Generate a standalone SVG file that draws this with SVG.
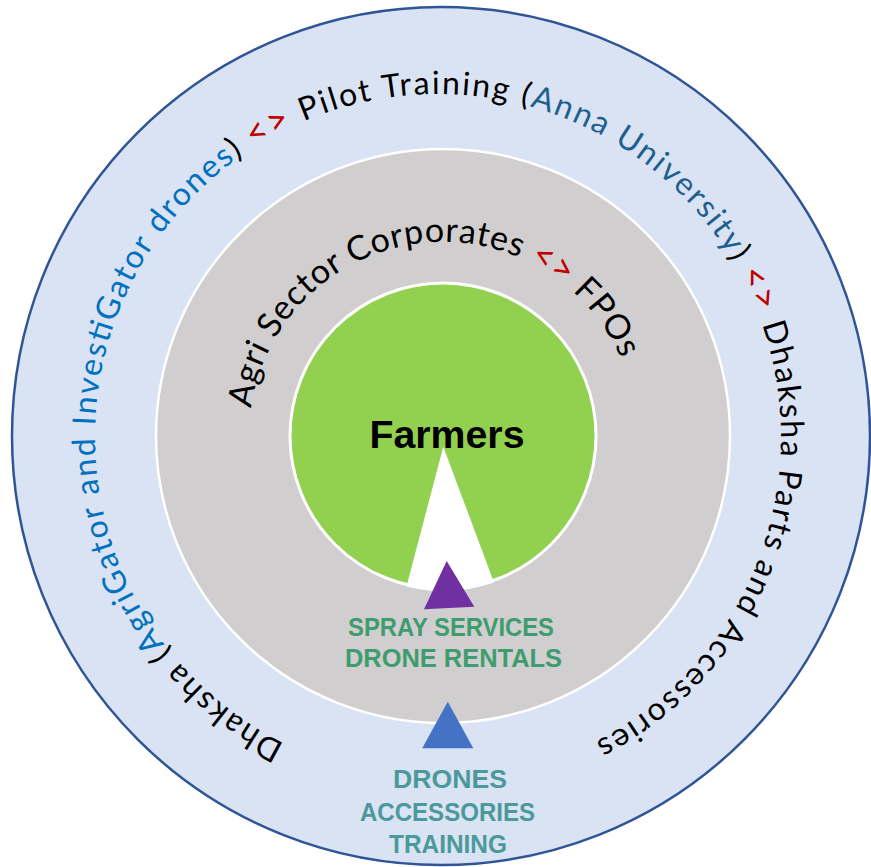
<svg xmlns="http://www.w3.org/2000/svg" width="871" height="867" viewBox="0 0 871 867">
<style>
.ring-text{font-family:Lato,"Open Sans",sans-serif;fill:#000}
.outer-t{font-size:32px}
.inner-t{font-size:34px}
.blue{fill:#0070c0}
.navy{fill:#1f5f8f}
.red{fill:#c00000;font-size:36px}
.cap{font-family:"Liberation Sans",Arial,sans-serif;font-weight:bold;font-size:25px;text-anchor:middle}
.green-t{fill:#3f9c6e}
.teal-t{fill:#4b999b}
</style>
<defs>
<path id="outerPath" d="M284.4,743.7 A343,343 0 0 1 591.6,130.3 A343,343 0 0 1 284.4,743.7"/>
<path id="innerPath" d="M251.0,408.3 A194,194 0 0 1 634.1,402.3"/>
</defs>
<rect width="871" height="867" fill="#fff"/>
<g id="outer-ring">
<circle cx="441" cy="436" r="429" fill="#dae3f3" stroke="#2f5597" stroke-width="2.5"/>
<text class="ring-text outer-t"><textPath href="#outerPath" textLength="1832" lengthAdjust="spacing">Dhaksha (<tspan class="blue">AgriGator and InvestiGator drones</tspan>) <tspan class="red">&lt;&gt;</tspan> Pilot Training (<tspan class="navy">Anna University</tspan>) <tspan class="red">&lt;&gt;</tspan> Dhaksha Parts and Accessories</textPath></text>
</g>
<g id="middle-ring">
<circle cx="443" cy="436" r="287" fill="#d0cece" stroke="#fff" stroke-width="2.5"/>
<text class="ring-text inner-t"><textPath href="#innerPath" textLength="502" lengthAdjust="spacing">Agri Sector Corporates <tspan class="red">&lt;&gt;</tspan> FPOs</textPath></text>
</g>
<g id="farmers">
<circle cx="443" cy="436" r="153" fill="#92d050" stroke="#fff" stroke-width="3"/>
<path d="M443.3,446.7 L406.5,586.5 A153,153 0 0 0 494,582.5 Z" fill="#fff"/>
<text x="447" y="448" font-family="'Liberation Sans',Arial,sans-serif" font-weight="bold" font-size="39" text-anchor="middle" textLength="155" lengthAdjust="spacingAndGlyphs">Farmers</text>
</g>
<g id="connectors">
<polygon points="446.7,561 424,609.3 474.3,606.7" fill="#7030a0"/>
<polygon points="447.8,701.7 422.2,748.3 473.3,748.3" fill="#4472c4"/>
</g>
<g id="services">
<text class="cap green-t" x="451" y="636" textLength="206" lengthAdjust="spacingAndGlyphs">SPRAY SERVICES</text>
<text class="cap green-t" x="453.5" y="667" textLength="217" lengthAdjust="spacingAndGlyphs">DRONE RENTALS</text>
</g>
<g id="products">
<text class="cap teal-t" x="450" y="788" textLength="114" lengthAdjust="spacingAndGlyphs">DRONES</text>
<text class="cap teal-t" x="447.5" y="821" textLength="175" lengthAdjust="spacingAndGlyphs">ACCESSORIES</text>
<text class="cap teal-t" x="448" y="853" textLength="118" lengthAdjust="spacingAndGlyphs">TRAINING</text>
</g>
</svg>
